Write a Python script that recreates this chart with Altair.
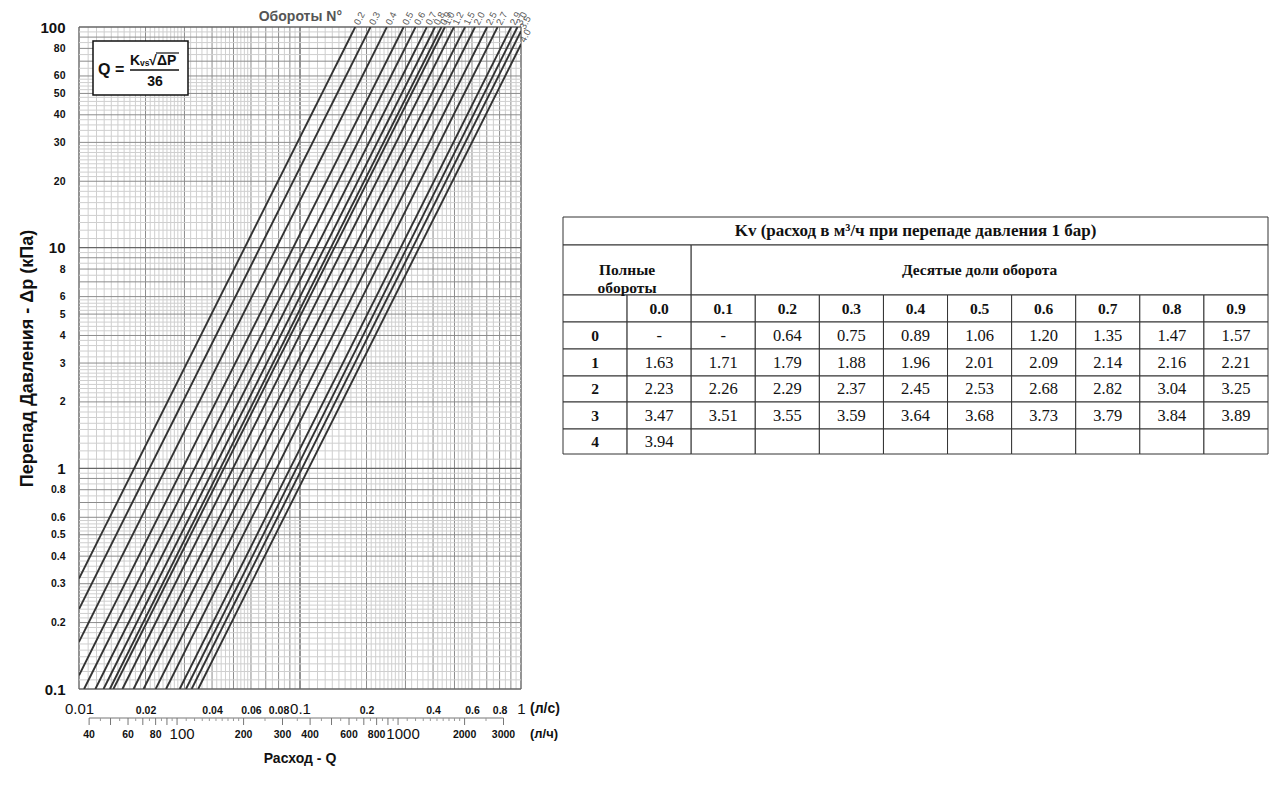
import math
import altair as alt
import pandas as pd

# ---------------- data ----------------
TURNS = ["0.2", "0.3", "0.4", "0.5", "0.6", "0.7", "0.8", "0.9", "1.0", "1.2",
         "1.5", "2.0", "2.5", "2.7", "2.9", "3.0", "3.5", "4.0"]
KV = [0.64, 0.75, 0.89, 1.06, 1.20, 1.35, 1.47, 1.57, 1.63, 1.79,
      2.01, 2.23, 2.53, 2.82, 3.25, 3.47, 3.68, 3.94]

Q_DOMAIN = [0.01, 1.0]      # л/с
DP_DOMAIN = [0.1, 100.0]    # кПа

X_TICKS = [0.01, 0.02, 0.04, 0.06, 0.08, 0.1, 0.2, 0.4, 0.6, 0.8, 1]
Y_TICKS = [0.1, 0.2, 0.3, 0.4, 0.5, 0.6, 0.8, 1, 2, 3, 4, 5, 6, 8,
           10, 20, 30, 40, 50, 60, 80, 100]

LH_LABELS = [40, 60, 80, 100, 200, 300, 400, 600, 800, 1000, 2000, 3000]
LH_BIG = [100, 1000]
LH_MAJOR = [40, 50, 60, 70, 80, 90, 100, 200, 300, 400, 500, 600, 700, 800,
            900, 1000, 2000, 3000]
LH_MINOR = [45, 55, 65, 75, 85, 95, 110, 120, 130, 140, 150, 160, 170, 180, 190,
            250, 350, 450, 550, 650, 750, 850, 950,
            1100, 1200, 1300, 1400, 1500, 1600, 1700, 1800, 1900, 2500]

X_DECADES = [0.01, 0.1, 1]
Y_DECADES = [0.1, 1, 10, 100]
MID_MANT = [2, 3, 4, 5, 6, 7, 8, 9]
MINOR_MANT = [1.1, 1.2, 1.3, 1.4, 1.5, 1.6, 1.7, 1.8, 1.9,
              2.1, 2.2, 2.3, 2.4, 2.5, 2.6, 2.7, 2.8, 2.9,
              3.2, 3.4, 3.6, 3.8, 4.2, 4.4, 4.6, 4.8, 5.2, 5.4, 5.6, 5.8,
              6.5, 7.5, 8.5, 9.5]

Y_TITLE = "Перепад Давления  - Δp (кПа)"
X_TITLE = "Расход - Q"
TURNS_TITLE = "Обороты N°"

TITLE = "Kv (расход в м³/ч при перепаде давления 1 бар)"
HDR_FULL = "Полные\nобороты"
HDR_TENTHS = "Десятые доли оборота"
TENTHS = ["0.0", "0.1", "0.2", "0.3", "0.4", "0.5", "0.6", "0.7", "0.8", "0.9"]
FULL = ["0", "1", "2", "3", "4"]
KV_TABLE = [
    ["-", "-", "0.64", "0.75", "0.89", "1.06", "1.20", "1.35", "1.47", "1.57"],
    ["1.63", "1.71", "1.79", "1.88", "1.96", "2.01", "2.09", "2.14", "2.16", "2.21"],
    ["2.23", "2.26", "2.29", "2.37", "2.45", "2.53", "2.68", "2.82", "3.04", "3.25"],
    ["3.47", "3.51", "3.55", "3.59", "3.64", "3.68", "3.73", "3.79", "3.84", "3.89"],
    ["3.94", "", "", "", "", "", "", "", "", ""],
]

# ---------------- layout constants ----------------
W, H = 442, 662
SANS = "Liberation Sans"
NARROW = "Liberation Sans Narrow, Liberation Sans"
SERIF = "Liberation Serif"
TW, TH = 705, 662
T_TOP = 190
ROW_EDGES = [0, 28, 78, 105, 132, 159, 185, 212, 237]

XS = alt.Scale(type="log", domain=Q_DOMAIN, nice=False)
YS = alt.Scale(type="log", domain=DP_DOMAIN, nice=False)

big_x = "indexof([0.01, 0.1, 1], datum.value) >= 0"
big_y = "indexof([0.1, 1, 10, 100], datum.value) >= 0"

X_AXIS = alt.Axis(values=X_TICKS, format="~g", domain=False, ticks=False, grid=False,
                  labelPadding=24, labelBaseline="alphabetic", labelFlush=False,
                  labelOverlap=False, labelColor="#111",
                  labelFontSize=alt.condition(big_x, alt.value(15), alt.value(10.5)),
                  labelFontWeight=alt.condition(big_x, alt.value("normal"), alt.value("bold")),
                  labelFont=alt.condition(big_x, alt.value(SANS), alt.value(NARROW)),
                  title=None)
Y_AXIS = alt.Axis(values=Y_TICKS, format="~g", domain=False, ticks=False, grid=False,
                  labelPadding=14, labelBaseline="middle", labelOverlap=False,
                  labelColor="#111", labelFont=SANS, labelFontWeight="bold",
                  labelFontSize=alt.condition(big_y, alt.value(15), alt.value(10.5)),
                  title=Y_TITLE, titleFont=SANS,
                  titleFontSize=18, titleFontWeight="bold", titleColor="#111",
                  titlePadding=3)


def XQ(field):
    return alt.X(field, type="quantitative", scale=XS, axis=X_AXIS)


def YQ(field):
    return alt.Y(field, type="quantitative", scale=YS, axis=Y_AXIS)


def grid(values):
    return pd.DataFrame({"v": values})


x_minor = [m * d for d in X_DECADES[:-1] for m in MINOR_MANT]
x_mid = [m * d for d in X_DECADES[:-1] for m in MID_MANT]
y_minor = [m * d for d in Y_DECADES[:-1] for m in MINOR_MANT]
y_mid = [m * d for d in Y_DECADES[:-1] for m in MID_MANT]

layers = []
for vals, col, sw in [(x_minor, "#cfcfcf", 1), (x_mid, "#8c8c8c", 1), (X_DECADES, "#666", 1.4)]:
    layers.append(alt.Chart(grid(vals)).mark_rule(color=col, strokeWidth=sw).encode(x=XQ("v")))
for vals, col, sw in [(y_minor, "#cfcfcf", 1), (y_mid, "#8c8c8c", 1), (Y_DECADES, "#666", 1.4)]:
    layers.append(alt.Chart(grid(vals)).mark_rule(color=col, strokeWidth=sw).encode(y=YQ("v")))

# Kv lines: ΔP = (36 Q / Kv)^2
rows, labs = [], []
for n, kv in zip(TURNS, KV):
    q0 = max(Q_DOMAIN[0], kv * math.sqrt(DP_DOMAIN[0]) / 36)
    q1 = min(Q_DOMAIN[1], kv * math.sqrt(DP_DOMAIN[1]) / 36)
    for q in (q0, q1):
        rows.append({"n": n, "q": q, "dp": (36 * q / kv) ** 2})
    labs.append({"n": n, "q": q1, "dp": (36 * q1 / kv) ** 2})
lines_df = pd.DataFrame(rows)
labs_df = pd.DataFrame(labs)

layers.append(alt.Chart(lines_df).mark_line(color="#333333", strokeWidth=1.9, clip=True)
              .encode(x=XQ("q"), y=YQ("dp"), detail="n:N"))

layers.append(alt.Chart(labs_df).mark_text(angle=297, align="left", baseline="middle", dx=3,
                                           fontSize=9.5, font=SANS, color="#555")
              .encode(x=XQ("q"), y=YQ("dp"), text="n:N"))


def note(text, x, y, size, weight="bold", align="left", baseline="alphabetic", color="#111"):
    return (alt.Chart(pd.DataFrame({"t": [text]}))
            .mark_text(fontSize=size, fontWeight=weight, font=SANS, align=align,
                       baseline=baseline, color=color)
            .encode(x=alt.value(x), y=alt.value(y), text="t:N"))


layers.append(note(TURNS_TITLE, 263, -10, 14, align="right", baseline="middle", color="#555"))

# formula box
one = pd.DataFrame({"k": [0]})
layers.append(alt.Chart(one).mark_rect(fill="white", stroke="#111", strokeWidth=1.5)
              .encode(x=alt.value(14), x2=alt.value(109), y=alt.value(14), y2=alt.value(68)))
layers.append(note("Q =", 19, 48, 16))
layers.append(note("K", 51, 38, 14))
layers.append(note("vs", 61, 39, 8.5))
layers.append(note("√", 70, 38, 14))
layers.append(note("ΔP", 78, 38, 14))
layers.append(alt.Chart(one).mark_rule(color="#111", strokeWidth=1.2)
              .encode(x=alt.value(77), x2=alt.value(100), y=alt.value(26)))
layers.append(alt.Chart(one).mark_rule(color="#111", strokeWidth=1.4)
              .encode(x=alt.value(51), x2=alt.value(100), y=alt.value(43)))
layers.append(note("36", 76, 59, 14, align="center"))

# л/с unit
layers.append(alt.Chart(pd.DataFrame({"q": [Q_DOMAIN[1]], "t": ["(л/с)"]}))
              .mark_text(fontSize=14, fontWeight="bold", font=SANS, align="left",
                         baseline="alphabetic", dx=9, color="#111")
              .encode(x=XQ("q"), y=alt.value(H + 24), text="t:N"))

# л/ч scale
lh_calc = {"q": "datum.lh / 3600"}
layers.append(alt.Chart(pd.DataFrame({"a": [min(LH_MAJOR)], "b": [max(LH_MAJOR)]}))
              .transform_calculate(qa="datum.a / 3600", qb="datum.b / 3600")
              .mark_rule(color="#777", strokeWidth=1)
              .encode(x=XQ("qa"), x2="qb:Q", y=alt.value(H + 29)))
layers.append(alt.Chart(pd.DataFrame({"lh": LH_MAJOR})).transform_calculate(**lh_calc)
              .mark_rule(color="#777", strokeWidth=1)
              .encode(x=XQ("q"), y=alt.value(H + 29), y2=alt.value(H + 36)))
layers.append(alt.Chart(pd.DataFrame({"lh": LH_MINOR})).transform_calculate(**lh_calc)
              .mark_rule(color="#999", strokeWidth=1)
              .encode(x=XQ("q"), y=alt.value(H + 29), y2=alt.value(H + 32)))
lh_df = pd.DataFrame({"lh": LH_LABELS, "big": [v in LH_BIG for v in LH_LABELS]})
layers.append(alt.Chart(lh_df).transform_filter("!datum.big").transform_calculate(**lh_calc)
              .mark_text(fontSize=10.5, fontWeight="bold", font=NARROW, baseline="alphabetic", color="#111")
              .encode(x=XQ("q"), y=alt.value(H + 49), text="lh:N"))
layers.append(alt.Chart(lh_df).transform_filter("datum.big").transform_calculate(**lh_calc)
              .mark_text(fontSize=15, font=SANS, baseline="alphabetic", color="#111", dx=5)
              .encode(x=XQ("q"), y=alt.value(H + 50), text="lh:N"))
layers.append(alt.Chart(pd.DataFrame({"q": [Q_DOMAIN[1]], "t": ["(л/ч)"]}))
              .mark_text(fontSize=13, fontWeight="bold", font=SANS, align="left",
                         baseline="alphabetic", dx=9, color="#111")
              .encode(x=XQ("q"), y=alt.value(H + 49), text="t:N"))
layers.append(note(X_TITLE, W / 2, H + 70, 14, align="center", baseline="middle"))

main = alt.layer(*layers).properties(width=W, height=H)

# ---------------- table ----------------
E = ROW_EDGES
cells = []


def add(c0, c1, r0, r1, text, kind):
    cells.append({"x0": c0, "x1": c1, "y0": E[r0], "y1": E[r1],
                  "xc": (c0 + c1) / 2, "yc": (E[r0] + E[r1]) / 2, "t": text, "kind": kind})


add(0, 11, 0, 1, TITLE, "title")
add(0, 2, 1, 2, HDR_FULL, "head")
add(2, 11, 1, 2, HDR_TENTHS, "head")
add(0, 1, 2, 3, "", "head")
for i, t in enumerate(TENTHS):
    add(1 + i, 2 + i, 2, 3, t, "head")
for r, (full, row) in enumerate(zip(FULL, KV_TABLE)):
    add(0, 1, 3 + r, 4 + r, full, "head")
    for j, v in enumerate(row):
        add(1 + j, 2 + j, 3 + r, 4 + r, v, "val")
cells_df = pd.DataFrame(cells)

TX = alt.Scale(domain=[0, 11], nice=False, zero=False)
TY = alt.Scale(domain=[-T_TOP, TH - T_TOP], nice=False, zero=False, reverse=True)

t_rect = (alt.Chart(cells_df).mark_rect(fill="white", stroke="#333", strokeWidth=1)
          .encode(x=alt.X("x0:Q", scale=TX, axis=None), x2="x1:Q",
                  y=alt.Y("y0:Q", scale=TY, axis=None), y2="y1:Q"))
t_title = (alt.Chart(cells_df).transform_filter("datum.kind == 'title'")
           .mark_text(font=SERIF, fontWeight="bold", fontSize=17, color="#111")
           .encode(x=alt.X("xc:Q", scale=TX, axis=None), y=alt.Y("yc:Q", scale=TY, axis=None), text="t:N"))
t_head = (alt.Chart(cells_df).transform_filter("datum.kind == 'head'")
          .mark_text(font=SERIF, fontWeight="bold", fontSize=15.5, color="#111", lineBreak="\n",
                     baseline="middle")
          .encode(x=alt.X("xc:Q", scale=TX, axis=None), y=alt.Y("yc:Q", scale=TY, axis=None), text="t:N"))
t_val = (alt.Chart(cells_df).transform_filter("datum.kind == 'val'")
         .mark_text(font=SERIF, fontSize=16.5, color="#111", baseline="middle")
         .encode(x=alt.X("xc:Q", scale=TX, axis=None), y=alt.Y("yc:Q", scale=TY, axis=None), text="t:N"))
table = alt.layer(t_rect, t_title, t_head, t_val).properties(width=TW, height=TH)

chart = (alt.hconcat(main, table, spacing=2)
         .properties(padding={"left": 10, "top": 2, "right": 0, "bottom": 0})
         .configure_view(stroke=None))

chart.save("out.html", embed_options={"renderer": "svg", "actions": False})
